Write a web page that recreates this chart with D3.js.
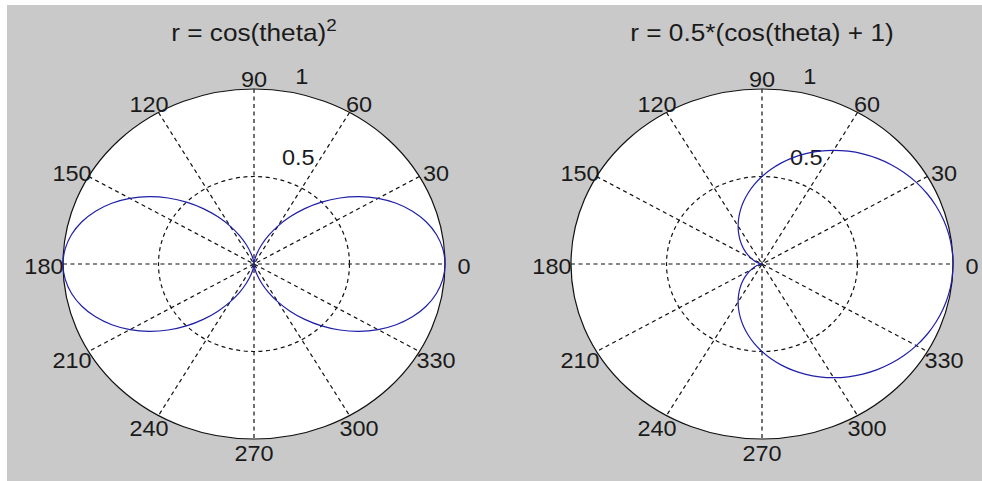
<!DOCTYPE html>
<html>
<head>
<meta charset="utf-8">
<script src="https://cdn.jsdelivr.net/npm/d3@7"></script>
<style>
  html, body { margin: 0; padding: 0; background: #ffffff; }
  svg { display: block; }
  text { font-family: "Liberation Sans", Arial, Helvetica, sans-serif; fill: #1a1a1a; }
</style>
</head>
<body>
<svg id="chart" width="982" height="481"></svg>
<script>
// Sample angles (degrees) shared by both curves
const thetaDeg = d3.range(0, 360, 5);

// r = cos(theta)^2, sampled every 5 degrees
const rCosSquared = [
  1, .9924, .9698, .9330, .8830, .8214, .75, .6710, .5868, .5, .4132, .3290,
  .25, .1786, .1170, .0670, .0302, .0076, 0, .0076, .0302, .0670, .1170, .1786,
  .25, .3290, .4132, .5, .5868, .6710, .75, .8214, .8830, .9330, .9698, .9924,
  1, .9924, .9698, .9330, .8830, .8214, .75, .6710, .5868, .5, .4132, .3290,
  .25, .1786, .1170, .0670, .0302, .0076, 0, .0076, .0302, .0670, .1170, .1786,
  .25, .3290, .4132, .5, .5868, .6710, .75, .8214, .8830, .9330, .9698, .9924
];

// r = 0.5*(cos(theta) + 1), sampled every 5 degrees
const rCardioid = [
  1, .9981, .9924, .9830, .9698, .9532, .9330, .9096, .8830, .8536, .8214, .7868,
  .75, .7113, .6710, .6294, .5868, .5436, .5, .4564, .4132, .3706, .3290, .2887,
  .25, .2132, .1786, .1464, .1170, .0904, .0670, .0468, .0302, .0170, .0076, .0019,
  0, .0019, .0076, .0170, .0302, .0468, .0670, .0904, .1170, .1464, .1786, .2132,
  .25, .2887, .3290, .3706, .4132, .4564, .5, .5436, .5868, .6294, .6710, .7113,
  .75, .7868, .8214, .8536, .8830, .9096, .9330, .9532, .9698, .9830, .9924, .9981
];

// Polar grid settings
const gridRings = [0.5, 1];
const ringLabels = ["0.5", "1"];
const spokeAngles = [30, 60, 90, 120, 150, 180];
const angleTicks = [0, 30, 60, 90, 120, 150, 180, 210, 240, 270, 300, 330];

const panelTitles = ["r = cos(theta)", "r = 0.5*(cos(theta) + 1)"];
const panelSuperscripts = ["2", ""];
const panelSeries = [rCosSquared, rCardioid];

const svg = d3.select("#chart");
const W = 982, H = 481;

// figure background
svg.append("rect").attr("width", W).attr("height", H).attr("fill", "#ffffff");
svg.append("rect").attr("x", 7).attr("y", 5).attr("width", W - 7).attr("height", H - 5)
  .attr("fill", "#c9c9c9");

const centersX = [254, 762];
const centerY = 264;
const RX = 191, RY = 175;
const stretch = RX / RY;
const fontSize = 21.5;
const titleSize = 24;
const curveColor = "#1f1fa8";

panelSeries.forEach((series, p) => {
  const cx = centersX[p];
  const x = d3.scaleLinear().domain([-1, 1]).range([cx - RX, cx + RX]);
  const y = d3.scaleLinear().domain([-1, 1]).range([centerY + RY, centerY - RY]);
  const rad = d => d * Math.PI / 180;
  const g = svg.append("g");

  // plot disc
  g.append("ellipse")
    .attr("cx", x(0)).attr("cy", y(0))
    .attr("rx", x(1) - x(0)).attr("ry", y(0) - y(1))
    .attr("fill", "#ffffff").attr("stroke", "none");

  // spokes across the full diameter
  g.selectAll(".spoke").data(spokeAngles).join("line")
    .attr("x1", a => x(Math.cos(rad(a))))
    .attr("y1", a => y(Math.sin(rad(a))))
    .attr("x2", a => x(-Math.cos(rad(a))))
    .attr("y2", a => y(-Math.sin(rad(a))))
    .attr("stroke", "#111").attr("stroke-width", 1.2)
    .attr("stroke-dasharray", "4,3.5");

  // rings: inner dashed, outer solid
  g.selectAll(".ring").data(gridRings).join("ellipse")
    .attr("cx", x(0)).attr("cy", y(0))
    .attr("rx", r => x(r) - x(0)).attr("ry", r => y(0) - y(r))
    .attr("fill", "none").attr("stroke", "#111").attr("stroke-width", 1.2)
    .attr("stroke-dasharray", r => r < 1 ? "4,3.5" : null);

  // ring value labels along the 82 degree ray
  g.selectAll(".rlabel").data(gridRings).join("text")
    .attr("transform", (r, i) => {
      const px = x((r + 0.025) * Math.cos(rad(82))) + 14;
      const py = y((r + 0.025) * Math.sin(rad(82))) - (i === 0 ? 8 : 2);
      return `translate(${px},${py}) scale(${stretch},1)`;
    })
    .attr("font-size", fontSize)
    .attr("text-anchor", "start")
    .text((r, i) => ringLabels[i]);

  // angle labels
  g.selectAll(".alabel").data(angleTicks).join("text")
    .attr("transform", a => {
      const px = x(1.1 * Math.cos(rad(a)));
      const py = y(1.07 * Math.sin(rad(a))) + 3;
      return `translate(${px},${py}) scale(${stretch},1)`;
    })
    .attr("font-size", fontSize)
    .attr("text-anchor", "middle")
    .attr("dominant-baseline", "central")
    .text(a => String(a));

  // the curve
  const pts = series.map((r, i) => [r, thetaDeg[i]]);
  const line = d3.line()
    .x(d => x(d[0] * Math.cos(rad(d[1]))))
    .y(d => y(d[0] * Math.sin(rad(d[1]))))
    .curve(d3.curveCatmullRomClosed.alpha(0.5));
  g.append("path").datum(pts)
    .attr("d", line)
    .attr("fill", "none").attr("stroke", curveColor).attr("stroke-width", 1.2);

  // title
  const t = g.append("text")
    .attr("transform", `translate(${cx},41) scale(${stretch},1)`)
    .attr("font-size", titleSize)
    .attr("text-anchor", "middle");
  t.append("tspan").text(panelTitles[p]);
  if (panelSuperscripts[p]) {
    t.append("tspan").attr("font-size", titleSize * 0.72).attr("dy", -10)
      .text(panelSuperscripts[p]);
  }
});
</script>
</body>
</html>
